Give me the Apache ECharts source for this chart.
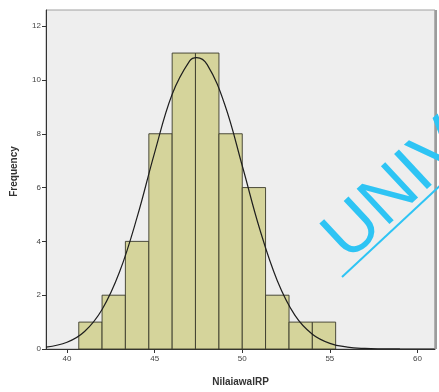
<!DOCTYPE html>
<html>
<head>
<meta charset="utf-8">
<script src="https://cdn.jsdelivr.net/npm/echarts@6/dist/echarts.min.js"></script>
<style>
  html, body { margin: 0; padding: 0; background: #ffffff; }
  #chart { width: 439px; height: 392px; }
</style>
</head>
<body>
<div id="chart"></div>
<script>
// Histogram bin edges (NilaiawalRP) and the frequency in each bin
const binEdges = [40.67, 42, 43.33, 44.67, 46, 47.33, 48.67, 50, 51.33, 52.67, 54, 55.33];
const frequencies = [1, 2, 4, 8, 11, 11, 8, 6, 2, 1, 1];

// Fitted normal curve, sampled along the x range
const curveX = [38.8, 40, 41, 42, 43, 44, 45, 46, 47, 47.4, 48, 49, 50, 51, 52, 53, 54, 55, 56, 57, 58, 59, 60, 61];
const curveY = [0.07, 0.25, 0.65, 1.47, 2.87, 4.9, 7.3, 9.47, 10.71, 10.83, 10.57, 9.09, 6.81, 4.45, 2.54, 1.26, 0.55, 0.21, 0.07, 0.02, 0.005, 0.001, 0, 0];

// Axis tick labels
const xTicks = [40, 45, 50, 55, 60];

const bars = frequencies.map((f, i) => [binEdges[i], binEdges[i + 1], f]);
const curve = curveX.map((x, i) => [x, curveY[i]]);

const chart = echarts.init(document.getElementById('chart'), null, { renderer: 'canvas' });

const axisFont = { fontFamily: 'Liberation Sans, Arial, sans-serif', fontSize: 8, color: '#444' };
const markColor = '#2ec4f4';

chart.setOption({
  animation: false,
  backgroundColor: '#ffffff',
  grid: {
    left: 46, right: 4, top: 10, bottom: 43,
    show: true,
    backgroundColor: '#eeeeee',
    borderColor: '#a0a0a0',
    borderWidth: 1
  },
  xAxis: {
    type: 'value',
    min: 38.8,
    max: 61,
    name: 'NilaiawalRP',
    nameLocation: 'middle',
    nameGap: 28,
    nameTextStyle: { fontFamily: 'Liberation Sans, Arial, sans-serif', fontSize: 10, fontWeight: 'bold', color: '#333' },
    axisLine: { show: true, onZero: false, lineStyle: { color: '#333', width: 1 } },
    axisTick: { show: true, length: 4, customValues: xTicks, lineStyle: { color: '#333' } },
    axisLabel: { customValues: xTicks, margin: 6, ...axisFont },
    splitLine: { show: false }
  },
  yAxis: {
    type: 'value',
    min: 0,
    max: 12.6,
    interval: 2,
    name: 'Frequency',
    nameLocation: 'middle',
    nameGap: 27,
    nameRotate: 90,
    nameTextStyle: { fontFamily: 'Liberation Sans, Arial, sans-serif', fontSize: 10, fontWeight: 'bold', color: '#333', padding: [0, 0, 0, 16] },
    axisLine: { show: true, lineStyle: { color: '#333', width: 1 } },
    axisTick: { show: true, length: 4, lineStyle: { color: '#333' } },
    axisLabel: { margin: 5, showMaxLabel: false, ...axisFont },
    splitLine: { show: false }
  },
  series: [
    {
      type: 'custom',
      data: bars,
      encode: { x: [0, 1], y: 2 },
      renderItem: function (params, api) {
        const p0 = api.coord([api.value(0), api.value(2)]);
        const p1 = api.coord([api.value(1), 0]);
        return {
          type: 'rect',
          shape: { x: p0[0], y: p0[1], width: p1[0] - p0[0], height: p1[1] - p0[1] },
          style: { fill: '#d5d49b', stroke: '#3a3a2a', lineWidth: 0.9 }
        };
      },
      z: 2
    },
    {
      type: 'line',
      data: curve,
      smooth: 0.4,
      showSymbol: false,
      lineStyle: { color: '#1e1e1e', width: 1.2 },
      z: 3
    }
  ],
  graphic: [
    {
      // heavier right frame edge
      type: 'rect',
      shape: { x: 434.5, y: 10, width: 2.5, height: 339 },
      style: { fill: '#9c9c9c' },
      z: 50
    },
    {
      type: 'text',
      x: 359,
      y: 274,
      rotation: 43 * Math.PI / 180,
      style: {
        text: 'UNIVERSITAS',
        fill: markColor,
        font: 'normal 70px "Liberation Sans", Arial, sans-serif',
        textVerticalAlign: 'bottom'
      },
      z: 100
    },
    {
      type: 'line',
      shape: { x1: 342, y1: 277, x2: 460, y2: 167 },
      style: { stroke: markColor, lineWidth: 2 },
      z: 100
    }
  ]
});
</script>
</body>
</html>
